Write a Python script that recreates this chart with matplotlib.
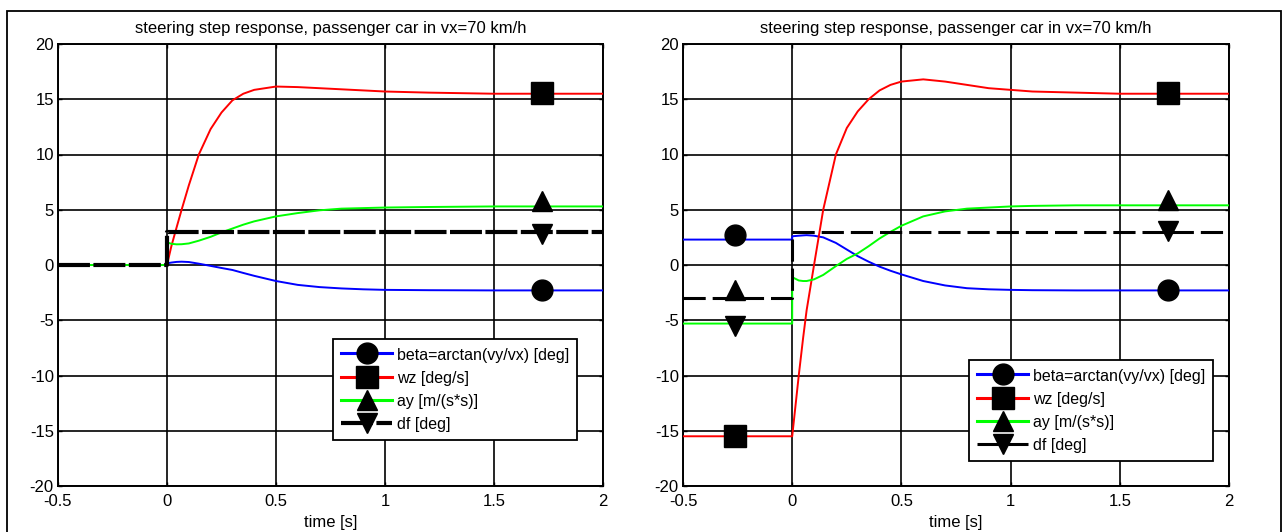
import matplotlib
matplotlib.use("Agg")
import matplotlib.pyplot as plt
from matplotlib.patches import Rectangle

plt.rcParams['font.family'] = ['Liberation Sans', 'DejaVu Sans']
plt.rcParams['lines.scale_dashes'] = False

# ---------------- data ----------------
title_text = "steering step response, passenger car in vx=70 km/h"
xlabel_text = "time [s]"
labels = ["beta=arctan(vy/vx) [deg]", "wz [deg/s]", "ay [m/(s*s)]", "df [deg]"]
x_ticks = [-0.5, 0, 0.5, 1, 1.5, 2]
x_ticklabels = ["-0.5", "0", "0.5", "1", "1.5", "2"]
y_ticks = [-20, -15, -10, -5, 0, 5, 10, 15, 20]
y_ticklabels = ["-20", "-15", "-10", "-5", "0", "5", "10", "15", "20"]

# left panel
t_left = [-0.5, 0, 0, 0.02, 0.044, 0.067, 0.1, 0.146, 0.2, 0.25, 0.3, 0.35, 0.4,
          0.5, 0.6, 0.7, 0.8, 0.9, 1.0, 1.2, 1.5, 2.0]
beta_left = [0, 0, 0.15, 0.22, 0.28, 0.3, 0.27, 0.12, -0.08, -0.27, -0.45, -0.72, -0.98,
             -1.45, -1.8, -2.0, -2.12, -2.2, -2.25, -2.28, -2.3, -2.3]
wz_left = [0, 0, 0, 1.7, 3.4, 5.0, 7.2, 10.0, 12.3, 13.8, 14.9, 15.5, 15.85,
           16.15, 16.1, 16.0, 15.9, 15.8, 15.7, 15.6, 15.5, 15.5]
ay_left = [0, 0, 2.05, 1.92, 1.87, 1.88, 1.95, 2.2, 2.55, 2.95, 3.3, 3.65, 3.95,
           4.4, 4.7, 4.95, 5.1, 5.15, 5.2, 5.25, 5.3, 5.3]
df_left = [0, 0, 3, 3, 3, 3, 3, 3, 3, 3, 3, 3, 3, 3, 3, 3, 3, 3, 3, 3, 3, 3]

mk_t_left = [1.72]
mk_beta_left = [-2.25]
mk_wz_left = [15.6]
mk_ay_left = [5.75]
mk_df_left = [2.85]

# right panel
t_right = [-0.5, 0, 0, 0.03, 0.05, 0.066, 0.1, 0.142, 0.2, 0.25, 0.3, 0.35, 0.4, 0.45,
           0.5, 0.6, 0.7, 0.8, 0.9, 1.0, 1.1, 1.3, 1.5, 2.0]
beta_right = [2.3, 2.3, 2.6, 2.65, 2.68, 2.7, 2.65, 2.5, 2.0, 1.4, 0.8, 0.3, -0.15, -0.52,
              -0.85, -1.45, -1.85, -2.1, -2.2, -2.25, -2.28, -2.3, -2.3, -2.3]
wz_right = [-15.5, -15.5, -15.5, -10.0, -6.6, -4.1, 0.0, 5.0, 10.0, 12.4, 13.9, 15.0, 15.8, 16.3,
            16.6, 16.8, 16.6, 16.3, 16.0, 15.85, 15.7, 15.6, 15.5, 15.5]
ay_right = [-5.3, -5.3, -1.1, -1.4, -1.45, -1.45, -1.3, -0.9, -0.1, 0.55, 1.05, 1.7, 2.4, 3.0,
            3.55, 4.4, 4.85, 5.1, 5.2, 5.3, 5.35, 5.4, 5.4, 5.4]
df_right = [-3, -3, 3, 3, 3, 3, 3, 3, 3, 3, 3, 3, 3, 3, 3, 3, 3, 3, 3, 3, 3, 3, 3, 3]

mk_t_right = [-0.26, 1.72]
mk_beta_right = [2.7, -2.3]
mk_wz_right = [-15.5, 15.6]
mk_ay_right = [-2.3, 5.9]
mk_df_right = [-5.5, 3.1]

# ---------------- figure ----------------
W, H = 1288, 532
fig = plt.figure(figsize=(W / 100, H / 100), dpi=100)


def px_axes(x0, y0, x1, y1):
    return fig.add_axes([x0 / W, 1 - y1 / H, (x1 - x0) / W, (y1 - y0) / H])


def draw_panel(ax, t, beta, wz, ay, df, mk_t, mk_beta, mk_wz, mk_ay, mk_df,
               df_lw, df_dash, leg_xy):
    lw = 1.4
    ms = 15
    ax.plot(t, beta, color='#0000ff', lw=lw, zorder=3)
    ax.plot(t, wz, color='#ff0000', lw=lw, zorder=3)
    ax.plot(t, ay, color='#00ff00', lw=lw, zorder=3)
    ax.plot(t, df, color='black', lw=df_lw, dashes=df_dash, zorder=3)
    ax.plot(mk_t, mk_beta, ls='none', marker='o', ms=ms, color='black', zorder=4)
    ax.plot(mk_t, mk_wz, ls='none', marker='s', ms=ms + 1, color='black', zorder=4)
    ax.plot(mk_t, mk_ay, ls='none', marker='^', ms=ms, color='black', zorder=4)
    ax.plot(mk_t, mk_df, ls='none', marker='v', ms=ms, color='black', zorder=4)

    # legend proxies (line + marker)
    h1, = ax.plot([], [], color='#0000ff', lw=2.2, marker='o', ms=ms, mfc='black', mec='black')
    h2, = ax.plot([], [], color='#ff0000', lw=2.2, marker='s', ms=ms + 1, mfc='black', mec='black')
    h3, = ax.plot([], [], color='#00ff00', lw=2.2, marker='^', ms=ms, mfc='black', mec='black')
    h4, = ax.plot([], [], color='black', lw=df_lw, dashes=df_dash, marker='v', ms=ms,
                  mfc='black', mec='black')
    leg = ax.legend([h1, h2, h3, h4], labels, loc='upper left',
                    bbox_to_anchor=(leg_xy[0] / W, 1 - leg_xy[1] / H),
                    bbox_transform=fig.transFigure, borderaxespad=0,
                    fontsize=11.5, numpoints=1, handlelength=3.2, handleheight=1.0,
                    handletextpad=0.3, labelspacing=0.48, borderpad=0.5,
                    fancybox=False, framealpha=1, edgecolor='black')
    leg.get_frame().set_linewidth(1.3)
    leg.set_zorder(10)

    ax.set_xlim(-0.5, 2)
    ax.set_ylim(-20, 20)
    ax.set_xticks(x_ticks)
    ax.set_xticklabels(x_ticklabels)
    ax.set_yticks(y_ticks)
    ax.set_yticklabels(y_ticklabels)
    ax.grid(True, color='black', lw=1.2, ls='-')
    ax.set_axisbelow(True)
    ax.tick_params(direction='in', length=3, width=1, top=True, right=True,
                   labelsize=12, pad=3)
    ax.tick_params(axis='x', pad=6)
    for s in ax.spines.values():
        s.set_linewidth(1.4)
    ax.set_title(title_text, fontsize=12, pad=8)
    ax.set_xlabel(xlabel_text, fontsize=12, labelpad=4)


axL = px_axes(58, 44, 603, 486)
axR = px_axes(683, 44, 1229, 486)

draw_panel(axL, t_left, beta_left, wz_left, ay_left, df_left,
           mk_t_left, mk_beta_left, mk_wz_left, mk_ay_left, mk_df_left,
           df_lw=3.0, df_dash=(23, 2.5), leg_xy=(333, 339))
draw_panel(axR, t_right, beta_right, wz_right, ay_right, df_right,
           mk_t_right, mk_beta_right, mk_wz_right, mk_ay_right, mk_df_right,
           df_lw=2.2, df_dash=(16, 5), leg_xy=(969, 360))

fig.add_artist(Rectangle((7 / W, -0.05), (1281 - 7) / W, 1 - 11 / H + 0.05,
                         transform=fig.transFigure, fill=False, lw=1.3,
                         edgecolor='black'))

fig.savefig("out.png", dpi=100)
